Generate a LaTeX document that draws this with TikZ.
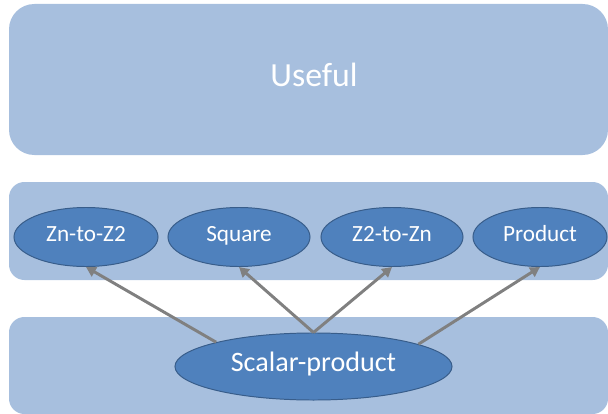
\documentclass[tikz,border=0pt]{standalone}
\usepackage{fontspec}
\setmainfont{Carlito}
\usepackage{tikz}
\usetikzlibrary{arrows.meta,shapes.geometric,positioning}
\usepackage{xcolor}
\definecolor{bandblue}{RGB}{167,191,222}
\definecolor{ovalblue}{RGB}{79,129,189}
\definecolor{ovalline}{RGB}{56,93,138}
\definecolor{linkgray}{RGB}{128,128,128}
\tikzstyle{band} = [fill=bandblue]
\tikzstyle{oval} = [ellipse, draw=ovalline, fill=ovalblue, line width=0.7pt, text=white, inner sep=0pt, text height=0.64em, text depth=0pt]
\tikzstyle{link} = [line width=2.1pt, color=linkgray, -{Triangle[length=7pt,width=7.5pt]}]

\begin{document}
\begin{tikzpicture}[x=0.025cm, y=-0.025cm]
    \useasboundingbox (0,0) rectangle (608,414);

    % Bands
    \fill[band, rounded corners=18pt] (9,4) rectangle (608,155);
    \fill[band, rounded corners=11pt] (9,182) rectangle (608,280);
    \fill[band, rounded corners=11pt] (9,317) rectangle (608,414);
    \node[text=white, font=\fontsize{24}{28}\selectfont, text height=0.64em, text depth=0pt] (useful) at (314,82) {Useful};

    % Middle row
    \node[oval, minimum width=3.6cm, minimum height=1.475cm, font=\fontsize{16.5}{19}\selectfont] (zn) at (86,237) {Zn-to-Z2};
    \node[oval, minimum width=3.55cm, minimum height=1.475cm, font=\fontsize{16.5}{19}\selectfont] (square) at (239,237) {Square};
    \node[oval, minimum width=3.55cm, minimum height=1.475cm, font=\fontsize{16.5}{19}\selectfont] (ztwo) at (392,237) {Z2-to-Zn};
    \node[oval, minimum width=3.35cm, minimum height=1.475cm, font=\fontsize{16.5}{19}\selectfont] (product) at (540,237) {Product};

    % Bottom
    \node[oval, minimum width=6.925cm, minimum height=1.675cm, font=\fontsize{20}{24}\selectfont] (scalar) at (313.5,366.5) {Scalar-product};

    % Links
    \draw[link] (scalar.166) -- (zn.south);
    \draw[link] (scalar.north) -- (square.south);
    \draw[link] (scalar.north) -- (ztwo.south);
    \draw[link] (scalar.12) -- (product.south);
\end{tikzpicture}
\end{document}
